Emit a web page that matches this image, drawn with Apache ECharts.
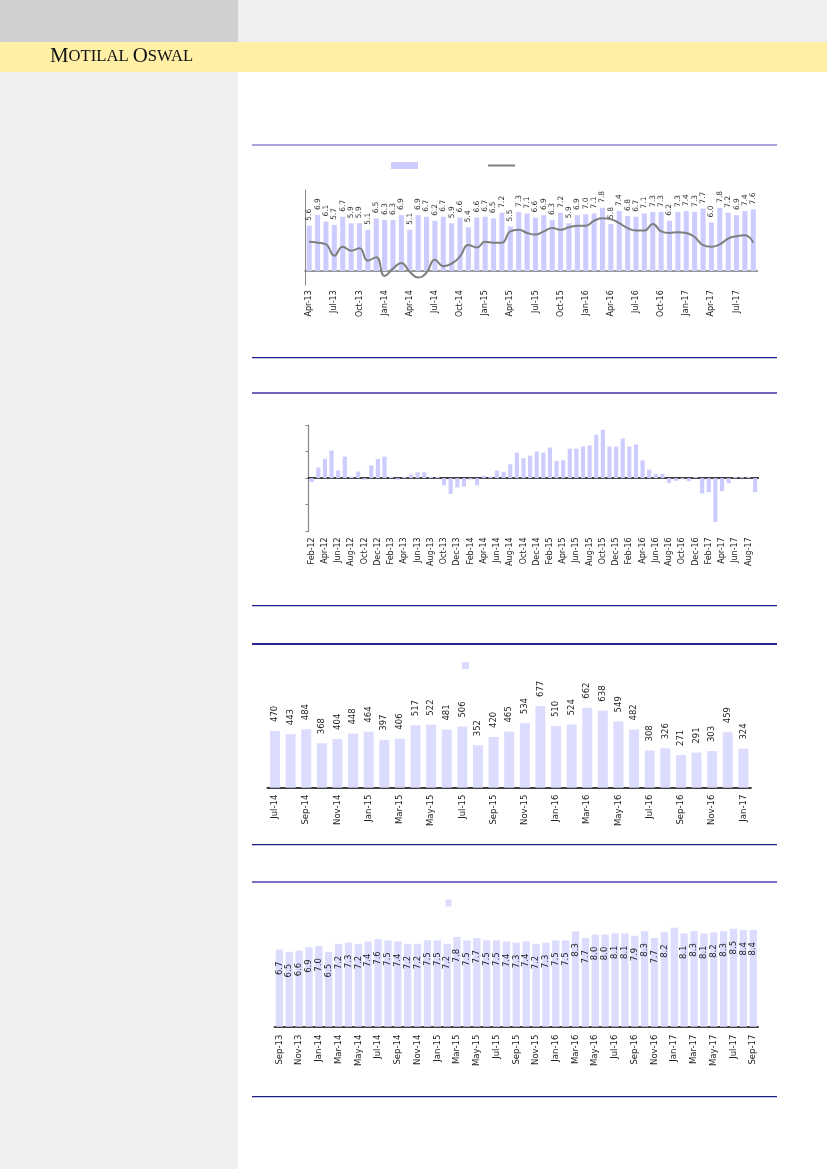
<!DOCTYPE html>
<html>
<head>
<meta charset="utf-8">
<script src="https://cdn.jsdelivr.net/npm/echarts@6/dist/echarts.min.js"></script>
<style>html,body{margin:0;padding:0;background:#fff;}#main{width:827px;height:1169px;}</style>
</head>
<body>
<div id="main"></div>
<script>
// ---------- DATA ----------
const c1Cats = ['Apr-13','May-13','Jun-13','Jul-13','Aug-13','Sep-13','Oct-13','Nov-13','Dec-13',
 'Jan-14','Feb-14','Mar-14','Apr-14','May-14','Jun-14','Jul-14','Aug-14','Sep-14','Oct-14','Nov-14','Dec-14',
 'Jan-15','Feb-15','Mar-15','Apr-15','May-15','Jun-15','Jul-15','Aug-15','Sep-15','Oct-15','Nov-15','Dec-15',
 'Jan-16','Feb-16','Mar-16','Apr-16','May-16','Jun-16','Jul-16','Aug-16','Sep-16','Oct-16','Nov-16','Dec-16',
 'Jan-17','Feb-17','Mar-17','Apr-17','May-17','Jun-17','Jul-17','Aug-17','Sep-17'];
const c1Bars = [5.6,6.9,6.1,5.7,6.7,5.9,5.9,5.1,6.5,6.3,6.3,6.9,5.1,6.9,6.7,6.2,6.7,5.9,6.6,5.4,6.6,6.7,6.5,7.2,5.5,7.3,7.1,6.6,6.9,6.3,7.2,5.9,6.9,7.0,7.1,7.8,5.8,7.4,6.8,6.7,7.1,7.3,7.3,6.2,7.3,7.4,7.3,7.7,6.0,7.8,7.2,6.9,7.4,7.6];
const c1Line = [3.6,3.5,3.3,1.9,3.0,2.5,2.8,1.3,1.7,-0.6,0.3,1.0,-0.1,-0.8,-0.2,1.4,0.6,0.9,1.8,3.2,2.9,3.6,3.5,3.5,4.9,5.1,4.7,4.5,4.9,5.3,5.1,5.4,5.6,5.6,6.2,6.5,6.4,5.9,5.3,5.0,5.0,5.8,4.9,4.7,4.8,4.7,4.2,3.2,3.0,3.3,4.0,4.3,4.4,3.5];

const c2Cats = ['Feb-12','Mar-12','Apr-12','May-12','Jun-12','Jul-12','Aug-12','Sep-12','Oct-12','Nov-12','Dec-12',
 'Jan-13','Feb-13','Mar-13','Apr-13','May-13','Jun-13','Jul-13','Aug-13','Sep-13','Oct-13','Nov-13','Dec-13',
 'Jan-14','Feb-14','Mar-14','Apr-14','May-14','Jun-14','Jul-14','Aug-14','Sep-14','Oct-14','Nov-14','Dec-14',
 'Jan-15','Feb-15','Mar-15','Apr-15','May-15','Jun-15','Jul-15','Aug-15','Sep-15','Oct-15','Nov-15','Dec-15',
 'Jan-16','Feb-16','Mar-16','Apr-16','May-16','Jun-16','Jul-16','Aug-16','Sep-16','Oct-16','Nov-16','Dec-16',
 'Jan-17','Feb-17','Mar-17','Apr-17','May-17','Jun-17','Jul-17','Aug-17','Sep-17'];
const c2Vals = [-1.5,4.0,7.2,10.4,2.9,8.1,0.5,2.5,-0.6,4.8,7.2,8.1,0.5,-0.6,0.5,1.3,2.2,2.2,0.5,0.5,-2.7,-5.9,-3.5,-3.2,-0.5,-2.7,0.9,0.5,2.9,2.4,5.2,9.6,7.5,8.5,10.0,9.6,11.5,6.5,6.7,11.1,11.1,11.9,12.3,16.3,18.2,11.9,11.9,14.9,11.9,12.7,6.7,3.2,1.6,1.6,-1.9,-1.0,-0.4,-1.1,0.4,-5.8,-5.3,-16.5,-4.9,-1.9,0.4,0.4,0.4,-5.3];
const c2Ticks = [-20,-10,0,10,20];

const c3Cats = ['Jul-14','Aug-14','Sep-14','Oct-14','Nov-14','Dec-14',
 'Jan-15','Feb-15','Mar-15','Apr-15','May-15','Jun-15','Jul-15','Aug-15','Sep-15','Oct-15','Nov-15','Dec-15',
 'Jan-16','Feb-16','Mar-16','Apr-16','May-16','Jun-16','Jul-16','Aug-16','Sep-16','Oct-16','Nov-16','Dec-16','Jan-17'];
const c3Vals = [470,443,484,368,404,448,464,397,406,517,522,481,506,352,420,465,534,677,510,524,662,638,549,482,308,326,271,291,303,459,324];

const c4Cats = ['Sep-13','Oct-13','Nov-13','Dec-13',
 'Jan-14','Feb-14','Mar-14','Apr-14','May-14','Jun-14','Jul-14','Aug-14','Sep-14','Oct-14','Nov-14','Dec-14',
 'Jan-15','Feb-15','Mar-15','Apr-15','May-15','Jun-15','Jul-15','Aug-15','Sep-15','Oct-15','Nov-15','Dec-15',
 'Jan-16','Feb-16','Mar-16','Apr-16','May-16','Jun-16','Jul-16','Aug-16','Sep-16','Oct-16','Nov-16','Dec-16',
 'Jan-17','Feb-17','Mar-17','Apr-17','May-17','Jun-17','Jul-17','Aug-17','Sep-17'];
const c4Vals = [6.7,6.5,6.6,6.9,7.0,6.5,7.2,7.3,7.2,7.4,7.6,7.5,7.4,7.2,7.2,7.5,7.5,7.2,7.8,7.5,7.7,7.5,7.5,7.4,7.3,7.4,7.2,7.3,7.5,7.5,8.3,7.7,8.0,8.0,8.1,8.1,7.9,8.3,7.7,8.2,8.6,8.1,8.3,8.1,8.2,8.3,8.5,8.4,8.4];
const c4Unlabelled = ['Jan-17'];

const brand = ['M','OTILAL',' ','O','SWAL'];

// ---------- CHART ----------
const chart = echarts.init(document.getElementById('main'), null, {renderer:'canvas', width:827, height:1169});
const FONT = 'DejaVu Sans';
const noLabel = () => '';

function labelAxis(gridIndex, cats, interval, fs, margin){
  return {type:'category', gridIndex, data:cats, position:'bottom',
    axisLine:{show:false, onZero:false}, axisTick:{show:false},
    axisLabel:{interval, rotate:90, fontSize:fs, color:'#222', margin, fontFamily:FONT},
    splitLine:{show:false}};
}
function zeroAxis(gridIndex, cats, color, width){
  return {type:'category', gridIndex, data:cats, position:'top',
    axisLine:{show:true, onZero:true, lineStyle:{color, width}}, axisTick:{show:false},
    axisLabel:{show:false}, splitLine:{show:false}};
}

const rule = (y, color, h) => ({type:'rect', shape:{x:252, y:y, width:525, height:h}, style:{fill:color}, silent:true});

const option = {
  backgroundColor:'#ffffff',
  animation:false,
  textStyle:{fontFamily:FONT},
  graphic:[
    {type:'rect', shape:{x:0,y:0,width:238,height:42}, style:{fill:'#d0d0d0'}},
    {type:'rect', shape:{x:238,y:0,width:589,height:42}, style:{fill:'#efefef'}},
    {type:'rect', shape:{x:0,y:42,width:827,height:30}, style:{fill:'#fff0a5'}},
    {type:'rect', shape:{x:0,y:72,width:238,height:1097}, style:{fill:'#efefef'}},
    {type:'text', x:50, y:67, scaleX:0.95, style:{
      text:'{a|'+brand[0]+'}{b|'+brand[1]+'}'+brand[2]+'{a|'+brand[3]+'}{b|'+brand[4]+'}',
      verticalAlign:'bottom', fill:'#111',
      rich:{a:{fontFamily:'Liberation Serif', fontSize:22, fill:'#111'}, b:{fontFamily:'Liberation Serif', fontSize:17.5, fill:'#111'}},
      fontFamily:'Liberation Serif', fontSize:17.5}},
    rule(144,'#aaa4dc',2), rule(357,'#1c1c86',1.2),
    rule(392,'#6e66c0',2), rule(605,'#1c1c86',1.2),
    rule(643,'#2a2490',2), rule(844,'#1c1c86',1.2),
    rule(881,'#7a72c8',2), rule(1096,'#1c1c86',1.2)
  ],
  legend:[
    {left:391, top:162, padding:0, itemWidth:27, itemHeight:7, itemGap:69, formatter:noLabel,
      data:[{name:'c1bar', icon:'rect'}, {name:'c1line', itemStyle:{opacity:0}}], selectedMode:false},
    {left:462, top:662, padding:0, itemWidth:7, itemHeight:7, formatter:noLabel,
      data:[{name:'c3', icon:'rect'}], selectedMode:false},
    {left:445.5, top:899.5, padding:0, itemWidth:6, itemHeight:7, formatter:noLabel,
      data:[{name:'c4', icon:'rect'}], selectedMode:false}
  ],
  grid:[
    {left:305, top:190, width:452.5, height:95.2, outerBoundsMode:'none'},
    {left:308.4, top:425, width:450, height:106.3, outerBoundsMode:'none'},
    {left:267.2, top:691.1, width:484, height:96.6, outerBoundsMode:'none'},
    {left:274.4, top:911.6, width:483.8, height:115.1, outerBoundsMode:'none'}
  ],
  xAxis:[
    labelAxis(0, c1Cats, 2, 8, 5),
    zeroAxis(0, c1Cats, '#777', 1.5),
    labelAxis(1, c2Cats, 1, 8, 6),
    zeroAxis(1, c2Cats, '#000', 1.5),
    {type:'category', gridIndex:2, data:c3Cats, position:'bottom',
      axisLine:{show:true, lineStyle:{color:'#000', width:1.5}}, axisTick:{show:false},
      axisLabel:{interval:1, rotate:90, fontSize:8.5, color:'#222', margin:7, fontFamily:FONT}},
    {type:'category', gridIndex:3, data:c4Cats, position:'bottom',
      axisLine:{show:true, lineStyle:{color:'#000', width:1.5}}, axisTick:{show:false},
      axisLabel:{interval:1, rotate:90, fontSize:8.5, color:'#222', margin:8, fontFamily:FONT}}
  ],
  yAxis:[
    {type:'value', gridIndex:0, min:-1.75, max:10, axisLine:{show:true, lineStyle:{color:'#888'}},
      axisTick:{show:false}, axisLabel:{show:false}, splitLine:{show:false}},
    {type:'value', gridIndex:1, min:c2Ticks[0], max:c2Ticks[c2Ticks.length-1], interval:c2Ticks[1]-c2Ticks[0],
      axisLine:{show:true, lineStyle:{color:'#888', width:1.2}},
      axisTick:{show:true, length:3, lineStyle:{color:'#888'}}, axisLabel:{show:false}, splitLine:{show:false}},
    {type:'value', gridIndex:2, min:0, max:800, show:false, splitLine:{show:false}},
    {type:'value', gridIndex:3, min:0, max:10, show:false, splitLine:{show:false}}
  ],
  series:[
    {name:'c1bar', type:'bar', xAxisIndex:0, yAxisIndex:0, data:c1Bars, barWidth:'60%',
      itemStyle:{color:'#ccccff'},
      label:{show:true, position:'top', rotate:90, align:'left', verticalAlign:'middle', distance:5,
        fontSize:7.5, color:'#333', fontFamily:FONT, formatter:p => p.value.toFixed(1)}},
    {name:'c1line', type:'line', xAxisIndex:0, yAxisIndex:0, data:c1Line, smooth:0.5, symbol:'none',
      lineStyle:{color:'#7f7f7f', width:2}, itemStyle:{color:'#7f7f7f'}, z:5},
    {name:'c2', type:'bar', xAxisIndex:2, yAxisIndex:1, data:c2Vals, barWidth:'63%',
      itemStyle:{color:'#ccccff'}},
    {name:'c3', type:'bar', xAxisIndex:4, yAxisIndex:2, data:c3Vals, barWidth:'64%',
      itemStyle:{color:'#dcdcff'},
      label:{show:true, position:'top', rotate:90, align:'left', verticalAlign:'middle', distance:9,
        fontSize:8.5, color:'#222', fontFamily:FONT}},
    {name:'c4', type:'bar', xAxisIndex:5, yAxisIndex:3,
      data:c4Vals.map((v,i) => c4Unlabelled.includes(c4Cats[i]) ? {value:v, label:{show:false}} : v),
      barWidth:'74%', itemStyle:{color:'#dcdcff'},
      label:{show:true, position:'insideTop', rotate:90, align:'right', verticalAlign:'middle', distance:12,
        fontSize:8.5, color:'#222', fontFamily:FONT, formatter:p => p.value.toFixed(1)}}
  ]
};
chart.setOption(option);
</script>
</body>
</html>
